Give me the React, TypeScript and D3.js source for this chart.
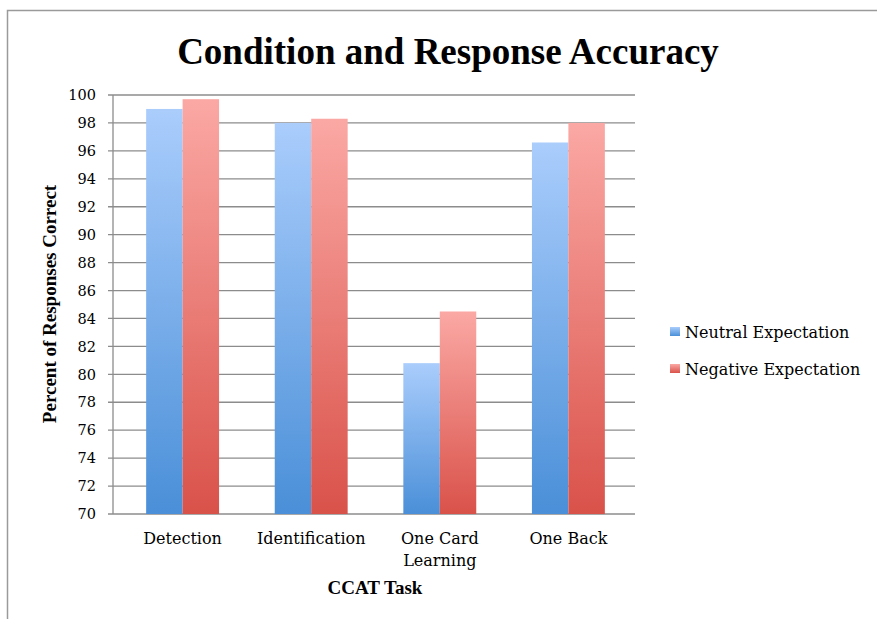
import React, { useEffect, useRef } from "react";
import * as d3 from "d3";

const categories = ["Detection", "Identification", "One Card\nLearning", "One Back"];
const seriesNames = ["Neutral Expectation", "Negative Expectation"];
const neutral = [99.0, 98.0, 80.8, 96.6];
const negative = [99.7, 98.3, 84.5, 98.0];
const yTicks = [70, 72, 74, 76, 78, 80, 82, 84, 86, 88, 90, 92, 94, 96, 98, 100];

const W = 877;
const H = 619;
const SERIF = "'DejaVu Serif', serif";
const BOLD = "'Liberation Serif', serif";

export default function App() {
  const ref = useRef<SVGSVGElement>(null);

  useEffect(() => {
    const svg = d3.select(ref.current);
    svg.selectAll("*").remove();

    const defs = svg.append("defs");
    const grads = [
      { id: "gBlue", top: "#aacdfc", bottom: "#4a8fd8" },
      { id: "gRed", top: "#fba8a4", bottom: "#d9524a" },
    ];
    grads.forEach((g) => {
      const lg = defs
        .append("linearGradient")
        .attr("id", g.id)
        .attr("x1", 0)
        .attr("y1", 0)
        .attr("x2", 0)
        .attr("y2", 1);
      lg.append("stop").attr("offset", "0%").attr("stop-color", g.top);
      lg.append("stop").attr("offset", "100%").attr("stop-color", g.bottom);
    });

    // outer frame
    svg
      .append("path")
      .attr("d", `M7.5,${H} L7.5,10.5 L${W},10.5`)
      .attr("fill", "none")
      .attr("stroke", "#9a9a9a")
      .attr("stroke-width", 1.5);

    const x0 = d3.scaleBand().domain(categories).range([114, 637]).paddingInner(0.433).paddingOuter(0.25);
    const x1 = d3.scaleBand().domain(seriesNames).range([0, x0.bandwidth()]);
    const y = d3.scaleLinear().domain([70, 100]).range([514, 95]);

    const g = svg.append("g");

    // gridlines
    g.selectAll("line.grid")
      .data(yTicks)
      .enter()
      .append("line")
      .attr("x1", 108)
      .attr("x2", 635)
      .attr("y1", (d) => y(d))
      .attr("y2", (d) => y(d))
      .attr("stroke", "#8c8c8c")
      .attr("stroke-width", 1.3);

    // y axis line
    g.append("line")
      .attr("x1", 113)
      .attr("x2", 113)
      .attr("y1", y(100))
      .attr("y2", y(70))
      .attr("stroke", "#8c8c8c")
      .attr("stroke-width", 1.3);

    // tick labels
    g.selectAll("text.ytick")
      .data(yTicks)
      .enter()
      .append("text")
      .attr("x", 96)
      .attr("y", (d) => y(d))
      .attr("dy", "0.36em")
      .attr("text-anchor", "end")
      .style("font-family", SERIF)
      .style("font-size", "14.5px")
      .text((d) => d);

    // bars
    const data = categories.map((c, i) => ({ c, vals: [neutral[i], negative[i]] }));
    const groups = g
      .selectAll("g.grp")
      .data(data)
      .enter()
      .append("g")
      .attr("transform", (d) => `translate(${x0(d.c)},0)`);
    groups
      .selectAll("rect")
      .data((d) => d.vals.map((v, j) => ({ v, s: seriesNames[j], j })))
      .enter()
      .append("rect")
      .attr("x", (d) => x1(d.s)!)
      .attr("width", x1.bandwidth())
      .attr("y", (d) => y(d.v))
      .attr("height", (d) => y(70) - y(d.v))
      .attr("fill", (d) => (d.j === 0 ? "url(#gBlue)" : "url(#gRed)"));

    // x labels
    categories.forEach((c) => {
      const lines = c.split("\n");
      const cx = x0(c)! + x0.bandwidth() / 2;
      const t = g
        .append("text")
        .attr("x", cx)
        .attr("y", 544)
        .attr("text-anchor", "middle")
        .style("font-family", SERIF)
        .style("font-size", "16px");
      lines.forEach((l, k) => {
        t.append("tspan")
          .attr("x", cx)
          .attr("dy", k === 0 ? 0 : 22)
          .text(l);
      });
    });

    // title
    svg
      .append("text")
      .attr("x", 448)
      .attr("y", 64)
      .attr("text-anchor", "middle")
      .style("font-family", BOLD)
      .style("font-weight", "bold")
      .style("font-size", "37px")
      .text("Condition and Response Accuracy");

    // axis titles
    svg
      .append("text")
      .attr("transform", `translate(56,304) rotate(-90)`)
      .attr("text-anchor", "middle")
      .style("font-family", BOLD)
      .style("font-weight", "bold")
      .style("font-size", "19px")
      .text("Percent of Responses Correct");

    svg
      .append("text")
      .attr("x", 375)
      .attr("y", 594)
      .attr("text-anchor", "middle")
      .style("font-family", BOLD)
      .style("font-weight", "bold")
      .style("font-size", "19px")
      .text("CCAT Task");

    // legend
    const legend = svg.append("g");
    seriesNames.forEach((s, i) => {
      const ly = 332 + i * 37;
      legend
        .append("rect")
        .attr("x", 670)
        .attr("y", ly - 5)
        .attr("width", 10)
        .attr("height", 9)
        .attr("fill", i === 0 ? "url(#gBlue)" : "url(#gRed)");
      legend
        .append("text")
        .attr("x", 685)
        .attr("y", ly)
        .attr("dy", "0.35em")
        .style("font-family", SERIF)
        .style("font-size", "16px")
        .text(s);
    });
  }, []);

  return (
    <svg
      ref={ref}
      width={W}
      height={H}
      style={{ position: "absolute", left: 0, top: 0, background: "#fff" }}
    />
  );
}
